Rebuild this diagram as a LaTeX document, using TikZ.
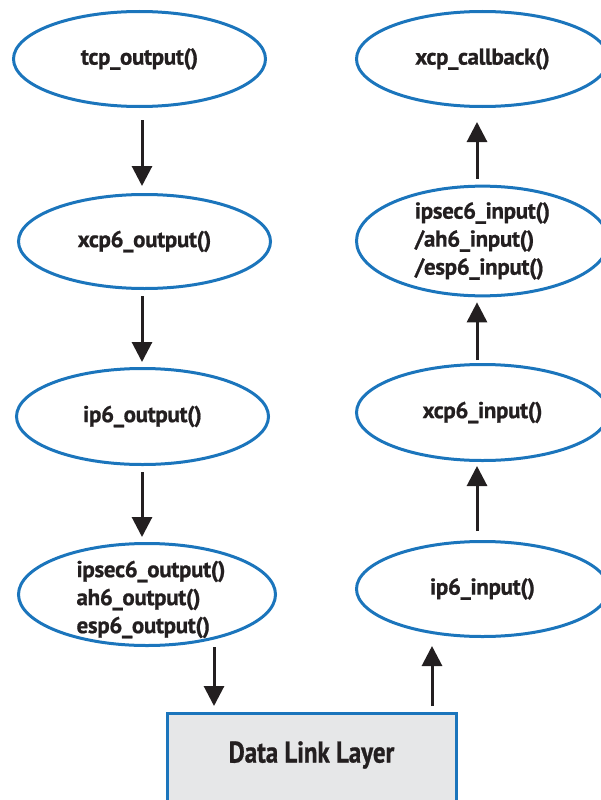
\documentclass[tikz,border=0pt]{standalone}
\usepackage{fontspec}
\setmainfont{PT Sans}[LetterSpace=-1.5, BoldFeatures={FakeBold=0.8}]
\newfontfamily\layerfont{PT Sans}[FakeStretch=0.83, BoldFeatures={FakeBold=0.8}]
\usetikzlibrary{shapes.geometric,arrows.meta}
\definecolor{ovalblue}{HTML}{1B75BC}
\definecolor{inkdark}{HTML}{231F20}
\definecolor{layergray}{HTML}{E6E7E8}
\tikzset{
  functext/.style={font=\fontsize{23}{28}\selectfont\bfseries, text=inkdark, align=left},
  func/.style={ellipse, draw=ovalblue, line width=3pt, inner sep=0pt,
    minimum width=252pt, minimum height=95pt, functext},
  flow/.style={draw=inkdark, line width=3pt,
    -{Triangle[width=20pt,length=20pt]}},
  layerbox/.style={rectangle, draw=ovalblue, fill=layergray, line width=3pt,
    minimum width=289pt, minimum height=120pt, inner sep=0pt},
  layertext/.style={font=\layerfont\fontsize{30}{34}\selectfont\bfseries, text=inkdark, inner sep=0pt}
}
\begin{document}
\begin{tikzpicture}[x=1pt,y=-1pt]
\useasboundingbox (0,0) rectangle (601,800);
\clip (0,0) rectangle (601,800);

% outgoing path (left column)
\node[func] (tcpout) at (139.5,59) {tcp\_output()};
\node[func, minimum height=94pt] (xcpout) at (144.5,241.5) {xcp6\_output()};
\node[func, minimum height=96pt] (ipout) at (142.5,416.5) {ip6\_output()};
\node[func, minimum width=257pt, minimum height=102pt] (secout) at (147,594.5) {};
\node[functext, inner sep=0pt] (secouttext) at ([xshift=4pt,yshift=-5pt]secout.center)
  {ipsec6\_output()\\ah6\_output()\\esp6\_output()};

% incoming path (right column)
\node[func] (callback) at (482.5,59) {xcp\_callback()};
\node[func] (secin) at (482.5,241) {ipsec6\_input()\\/ah6\_input()\\/esp6\_input()};
\node[func, minimum height=96pt] (xcpin) at (482.5,412.5) {xcp6\_input()};
\node[func] (ipin) at (482.5,589) {ip6\_input()};

% link layer
\node[layerbox] (dll) at (311.5,773.5) {};
\node[layertext] (dlltext) at ([yshift=-43pt]dll.north) {Data Link Layer};

% arrow columns
\coordinate (lx) at (142,0);
\coordinate (rx) at (477,0);
\coordinate (dx) at (214,0);
\coordinate (ux) at (432,0);

\draw[flow, shorten <=12pt, shorten >=7pt] (tcpout.south -| lx) -- (xcpout.north -| lx);
\draw[flow, shorten <=6pt, shorten >=5pt] (xcpout.south -| lx) -- (ipout.north -| lx);
\draw[flow, shorten <=6pt, shorten >=5pt] (ipout.south -| lx) -- (secout.north -| lx);
\draw[flow, shorten <=0pt, shorten >=6pt] (secout.south -| dx) -- (dll.north -| dx);

\draw[flow, shorten <=6pt, shorten >=8pt] (dll.north -| ux) -- (ipin.south -| ux);
\draw[flow, shorten <=9pt, shorten >=4pt] (ipin.north -| rx) -- (xcpin.south -| rx);
\draw[flow, shorten <=3pt, shorten >=5pt] (xcpin.north -| rx) -- (secin.south -| rx);
\draw[flow, shorten <=6pt, shorten >=14pt] (secin.north -| rx) -- (callback.south -| rx);
\end{tikzpicture}
\end{document}
